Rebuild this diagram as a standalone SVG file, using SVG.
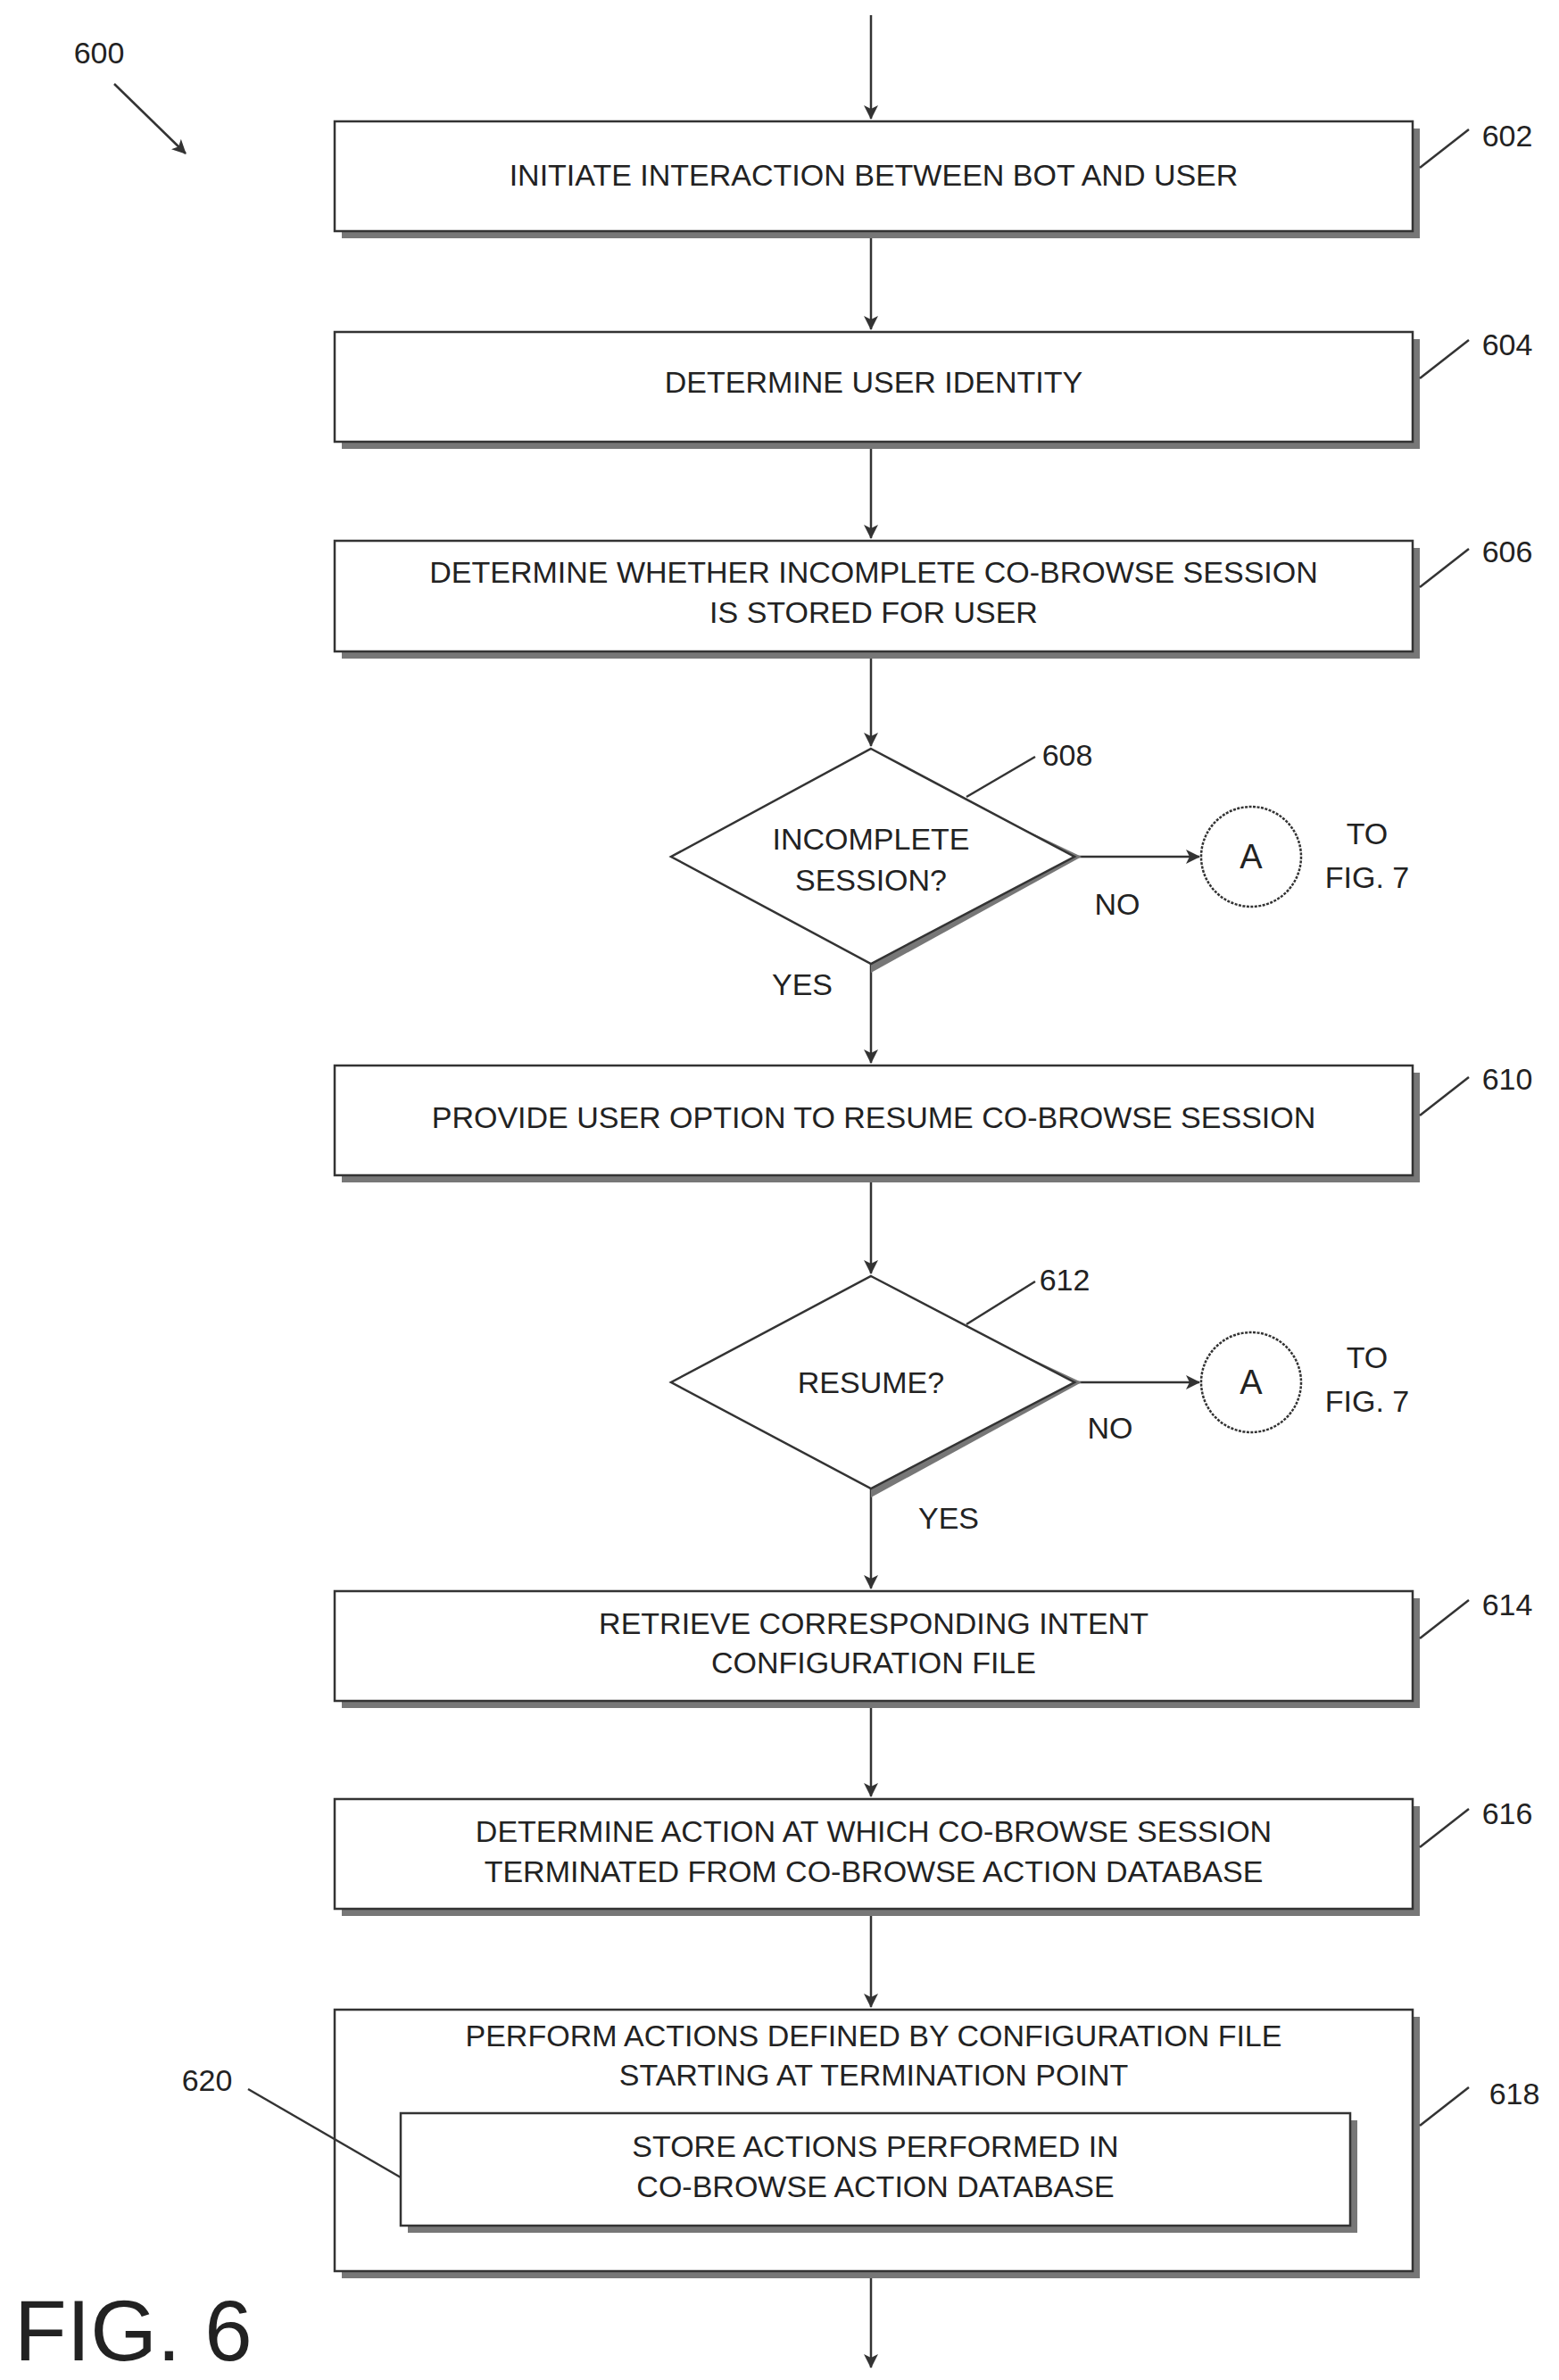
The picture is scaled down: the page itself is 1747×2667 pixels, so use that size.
<svg xmlns="http://www.w3.org/2000/svg" width="1747" height="2667" viewBox="0 0 1747 2667">
<style>
text{font-family:"Liberation Sans",Arial,sans-serif;font-size:34px;fill:#222}
.c{text-anchor:middle}
.box{fill:#fff;stroke:#333;stroke-width:2.5}
.sh{fill:#777}
.ln{stroke:#333;stroke-width:2.5;fill:none}
</style>
<defs>
<marker id="ah" markerWidth="16" markerHeight="16" refX="15" refY="8" orient="auto" markerUnits="userSpaceOnUse" viewBox="0 0 16 16">
<path d="M0,0 L16,8 L0,16 L4,8 Z" fill="#333"/>
</marker>
</defs>
<g id="connectors">
<line class="ln" x1="976" y1="17" x2="976" y2="133" marker-end="url(#ah)"/>
<line class="ln" x1="976" y1="259" x2="976" y2="369" marker-end="url(#ah)"/>
<line class="ln" x1="976" y1="495" x2="976" y2="603" marker-end="url(#ah)"/>
<line class="ln" x1="976" y1="730" x2="976" y2="836" marker-end="url(#ah)"/>
<line class="ln" x1="976" y1="1080" x2="976" y2="1191" marker-end="url(#ah)"/>
<line class="ln" x1="976" y1="1317" x2="976" y2="1427" marker-end="url(#ah)"/>
<line class="ln" x1="976" y1="1668" x2="976" y2="1780" marker-end="url(#ah)"/>
<line class="ln" x1="976" y1="1906" x2="976" y2="2013" marker-end="url(#ah)"/>
<line class="ln" x1="976" y1="2139" x2="976" y2="2249" marker-end="url(#ah)"/>
<line class="ln" x1="976" y1="2545" x2="976" y2="2653" marker-end="url(#ah)"/>
<line class="ln" x1="1204" y1="960" x2="1344" y2="960" marker-end="url(#ah)"/>
<line class="ln" x1="1204" y1="1549" x2="1344" y2="1549" marker-end="url(#ah)"/>
<text x="1252" y="1025" class="c">NO</text>
<text x="899" y="1115" class="c">YES</text>
<text x="1244" y="1612" class="c">NO</text>
<text x="1063" y="1713" class="c">YES</text>
</g>
<g id="ref600">
<text x="111" y="71" class="c">600</text>
<line class="ln" x1="128" y1="94" x2="208" y2="172" marker-end="url(#ah)"/>
</g>
<g id="n602">
<rect class="sh" x="383" y="144" width="1208" height="123"/>
<rect class="box" x="375" y="136" width="1208" height="123"/>
<text x="979" y="208" class="c">INITIATE INTERACTION BETWEEN BOT AND USER</text>
<line class="ln" x1="1591" y1="188" x2="1646" y2="145"/>
<text x="1689" y="164" class="c">602</text>
</g>
<g id="n604">
<rect class="sh" x="383" y="380" width="1208" height="123"/>
<rect class="box" x="375" y="372" width="1208" height="123"/>
<text x="979" y="440" class="c">DETERMINE USER IDENTITY</text>
<line class="ln" x1="1591" y1="424" x2="1646" y2="381"/>
<text x="1689" y="398" class="c">604</text>
</g>
<g id="n606">
<rect class="sh" x="383" y="614" width="1208" height="124"/>
<rect class="box" x="375" y="606" width="1208" height="124"/>
<text x="979" y="653" class="c">DETERMINE WHETHER INCOMPLETE CO-BROWSE SESSION</text>
<text x="979" y="698" class="c">IS STORED FOR USER</text>
<line class="ln" x1="1591" y1="658" x2="1646" y2="615"/>
<text x="1689" y="630" class="c">606</text>
</g>
<g id="n608">
<path d="M976,847 L1212,960 L976,1090 Z" class="sh"/>
<path d="M976,839 L1204,960 L976,1080 L752,960 Z" class="box"/>
<text x="976" y="952" class="c">INCOMPLETE</text>
<text x="976" y="998" class="c">SESSION?</text>
<line class="ln" x1="1083" y1="893" x2="1160" y2="848"/>
<text x="1196" y="858" class="c">608</text>
</g>
<g id="cA1">
<circle cx="1402" cy="960" r="56" fill="#fff" stroke="#333" stroke-width="2.5" stroke-dasharray="3 1.5"/>
<text x="1402" y="973" class="c" style="font-size:38px">A</text>
<text x="1532" y="946" class="c">TO</text>
<text x="1532" y="995" class="c">FIG. 7</text>
</g>
<g id="n610">
<rect class="sh" x="383" y="1202" width="1208" height="123"/>
<rect class="box" x="375" y="1194" width="1208" height="123"/>
<text x="979" y="1264" class="c">PROVIDE USER OPTION TO RESUME CO-BROWSE SESSION</text>
<line class="ln" x1="1591" y1="1250" x2="1646" y2="1207"/>
<text x="1689" y="1221" class="c">610</text>
</g>
<g id="n612">
<path d="M976,1438 L1212,1549 L976,1678 Z" class="sh"/>
<path d="M976,1430 L1204,1549 L976,1668 L752,1549 Z" class="box"/>
<text x="976" y="1561" class="c">RESUME?</text>
<line class="ln" x1="1083" y1="1484" x2="1160" y2="1436"/>
<text x="1193" y="1446" class="c">612</text>
</g>
<g id="cA2">
<circle cx="1402" cy="1549" r="56" fill="#fff" stroke="#333" stroke-width="2.5" stroke-dasharray="3 1.5"/>
<text x="1402" y="1562" class="c" style="font-size:38px">A</text>
<text x="1532" y="1533" class="c">TO</text>
<text x="1532" y="1582" class="c">FIG. 7</text>
</g>
<g id="n614">
<rect class="sh" x="383" y="1791" width="1208" height="123"/>
<rect class="box" x="375" y="1783" width="1208" height="123"/>
<text x="979" y="1831" class="c">RETRIEVE CORRESPONDING INTENT</text>
<text x="979" y="1875" class="c">CONFIGURATION FILE</text>
<line class="ln" x1="1591" y1="1836" x2="1646" y2="1793"/>
<text x="1689" y="1810" class="c">614</text>
</g>
<g id="n616">
<rect class="sh" x="383" y="2024" width="1208" height="123"/>
<rect class="box" x="375" y="2016" width="1208" height="123"/>
<text x="979" y="2064" class="c">DETERMINE ACTION AT WHICH CO-BROWSE SESSION</text>
<text x="979" y="2109" class="c">TERMINATED FROM CO-BROWSE ACTION DATABASE</text>
<line class="ln" x1="1591" y1="2070" x2="1646" y2="2027"/>
<text x="1689" y="2044" class="c">616</text>
</g>
<g id="n618">
<rect class="sh" x="383" y="2260" width="1208" height="293"/>
<rect class="box" x="375" y="2252" width="1208" height="293"/>
<text x="979" y="2293" class="c">PERFORM ACTIONS DEFINED BY CONFIGURATION FILE</text>
<text x="979" y="2337" class="c">STARTING AT TERMINATION POINT</text>
<line class="ln" x1="1591" y1="2382" x2="1646" y2="2339"/>
<text x="1697" y="2358" class="c">618</text>
</g>
<g id="n620">
<rect class="sh" x="457" y="2376" width="1064" height="126"/>
<rect class="box" x="449" y="2368" width="1064" height="126"/>
<text x="981" y="2417" class="c">STORE ACTIONS PERFORMED IN</text>
<text x="981" y="2462" class="c">CO-BROWSE ACTION DATABASE</text>
<line class="ln" x1="278" y1="2341" x2="449" y2="2440"/>
<text x="232" y="2343" class="c">620</text>
</g>
<text x="16" y="2645" style="font-size:96px">FIG. 6</text>
</svg>
